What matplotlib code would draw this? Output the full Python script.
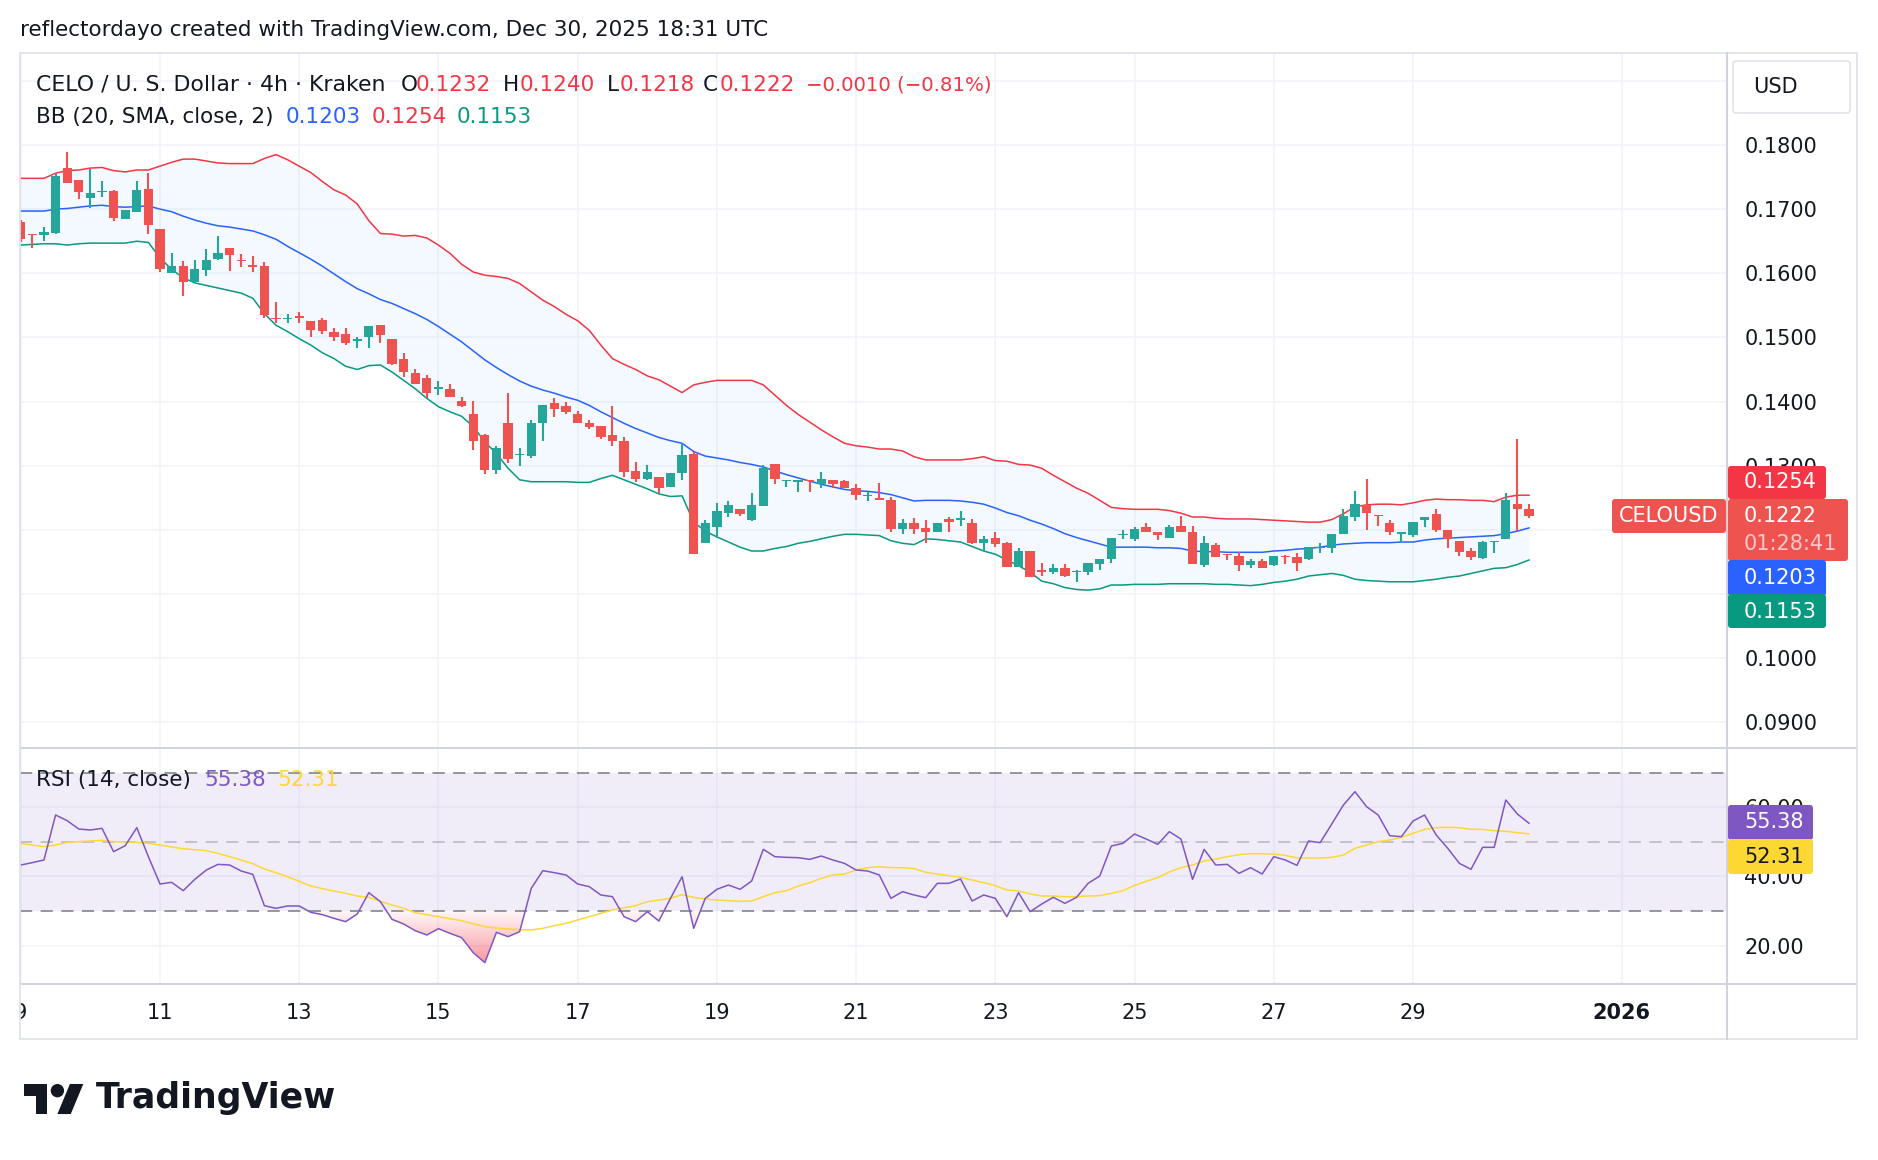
import numpy as np
import pandas as pd
import matplotlib
matplotlib.use('Agg')
import matplotlib.pyplot as plt
import matplotlib.dates as mdates
from matplotlib.transforms import Affine2D, Bbox, TransformedBbox, blended_transform_factory
from matplotlib.patches import FancyBboxPatch, Polygon, Circle
from matplotlib.lines import Line2D
from matplotlib.path import Path
from matplotlib.ticker import FormatStrFormatter

# ---------------- data (CELO/USD, 4h candles from 2025-12-09 00:00 UTC) ----------------
start_time = '2025-12-09 00:00'

opens = [0.1680, 0.1662, 0.1660, 0.1663, 0.1764, 0.1745, 0.1718, 0.1727, 0.1729, 0.1684,
         0.1696, 0.1731, 0.1669, 0.1601, 0.1611, 0.1587, 0.1605, 0.1622, 0.1640, 0.1621,
         0.1613, 0.1611, 0.1531, 0.1529, 0.1533, 0.1525, 0.1527, 0.1509, 0.1506, 0.1495,
         0.1500, 0.1520, 0.1497, 0.1467, 0.1444, 0.1436, 0.1420, 0.1420, 0.1401, 0.1380,
         0.1348, 0.1293, 0.1366, 0.1316, 0.1315, 0.1367, 0.1397, 0.1393, 0.1380, 0.1367,
         0.1362, 0.1348, 0.1338, 0.1291, 0.1280, 0.1282, 0.1267, 0.1288, 0.1319, 0.1180,
         0.1205, 0.1226, 0.1232, 0.1216, 0.1237, 0.1302, 0.1276, 0.1275, 0.1278, 0.1272,
         0.1277, 0.1276, 0.1266, 0.1252, 0.1250, 0.1246, 0.1202, 0.1210, 0.1203, 0.1196,
         0.1217, 0.1216, 0.1211, 0.1180, 0.1187, 0.1179, 0.1142, 0.1167, 0.1137, 0.1134,
         0.1141, 0.1134, 0.1134, 0.1146, 0.1154, 0.1192, 0.1186, 0.1205, 0.1196, 0.1188,
         0.1206, 0.1196, 0.1145, 0.1176, 0.1163, 0.1160, 0.1145, 0.1151, 0.1145, 0.1159,
         0.1157, 0.1154, 0.1171, 0.1171, 0.1194, 0.1220, 0.1239, 0.1223, 0.1210, 0.1194,
         0.1192, 0.1216, 0.1225, 0.1199, 0.1182, 0.1167, 0.1156, 0.1181, 0.1185, 0.1241,
         0.1232]

highs = [0.1683, 0.1662, 0.1672, 0.1756, 0.1789, 0.1745, 0.1762, 0.1744, 0.1730, 0.1699,
         0.1744, 0.1757, 0.1669, 0.1631, 0.1619, 0.1621, 0.1638, 0.1658, 0.1640, 0.1630,
         0.1627, 0.1617, 0.1555, 0.1537, 0.1540, 0.1525, 0.1530, 0.1514, 0.1514, 0.1500,
         0.1518, 0.1520, 0.1498, 0.1475, 0.1450, 0.1442, 0.1432, 0.1427, 0.1407, 0.1401,
         0.1350, 0.1330, 0.1414, 0.1327, 0.1372, 0.1394, 0.1406, 0.1400, 0.1386, 0.1372,
         0.1362, 0.1393, 0.1344, 0.1305, 0.1301, 0.1283, 0.1289, 0.1335, 0.1322, 0.1215,
         0.1242, 0.1245, 0.1232, 0.1258, 0.1301, 0.1302, 0.1278, 0.1277, 0.1278, 0.1290,
         0.1277, 0.1277, 0.1272, 0.1259, 0.1273, 0.1251, 0.1217, 0.1218, 0.1216, 0.1211,
         0.1220, 0.1229, 0.1217, 0.1190, 0.1196, 0.1181, 0.1171, 0.1167, 0.1149, 0.1146,
         0.1146, 0.1137, 0.1149, 0.1155, 0.1188, 0.1199, 0.1205, 0.1211, 0.1196, 0.1207,
         0.1221, 0.1206, 0.1190, 0.1179, 0.1163, 0.1166, 0.1154, 0.1154, 0.1160, 0.1161,
         0.1164, 0.1174, 0.1180, 0.1194, 0.1232, 0.1260, 0.1280, 0.1223, 0.1216, 0.1196,
         0.1212, 0.1220, 0.1233, 0.1199, 0.1182, 0.1171, 0.1182, 0.1183, 0.1258, 0.1342,
         0.1240]

lows = [0.1649, 0.1639, 0.1650, 0.1661, 0.1740, 0.1716, 0.1702, 0.1719, 0.1682, 0.1684,
        0.1696, 0.1661, 0.1602, 0.1600, 0.1565, 0.1587, 0.1596, 0.1620, 0.1604, 0.1609,
        0.1602, 0.1531, 0.1522, 0.1523, 0.1523, 0.1500, 0.1505, 0.1495, 0.1488, 0.1483,
        0.1484, 0.1492, 0.1457, 0.1438, 0.1428, 0.1405, 0.1410, 0.1407, 0.1392, 0.1324,
        0.1287, 0.1287, 0.1304, 0.1300, 0.1312, 0.1339, 0.1376, 0.1380, 0.1367, 0.1357,
        0.1341, 0.1330, 0.1282, 0.1275, 0.1277, 0.1257, 0.1267, 0.1278, 0.1162, 0.1180,
        0.1188, 0.1220, 0.1221, 0.1214, 0.1237, 0.1272, 0.1267, 0.1259, 0.1259, 0.1266,
        0.1266, 0.1265, 0.1247, 0.1245, 0.1246, 0.1196, 0.1193, 0.1193, 0.1179, 0.1196,
        0.1197, 0.1206, 0.1178, 0.1167, 0.1173, 0.1142, 0.1142, 0.1127, 0.1128, 0.1131,
        0.1126, 0.1119, 0.1130, 0.1138, 0.1149, 0.1185, 0.1183, 0.1196, 0.1184, 0.1188,
        0.1196, 0.1146, 0.1142, 0.1157, 0.1153, 0.1136, 0.1140, 0.1141, 0.1144, 0.1147,
        0.1136, 0.1153, 0.1164, 0.1164, 0.1194, 0.1214, 0.1200, 0.1206, 0.1192, 0.1180,
        0.1189, 0.1205, 0.1197, 0.1172, 0.1160, 0.1153, 0.1155, 0.1164, 0.1185, 0.1198,
        0.1218]

closes = [0.1654, 0.1659, 0.1664, 0.1752, 0.1740, 0.1726, 0.1725, 0.1728, 0.1686, 0.1698,
          0.1730, 0.1675, 0.1607, 0.1611, 0.1587, 0.1606, 0.1621, 0.1631, 0.1629, 0.1619,
          0.1610, 0.1535, 0.1528, 0.1531, 0.1531, 0.1512, 0.1510, 0.1500, 0.1491, 0.1498,
          0.1518, 0.1504, 0.1459, 0.1446, 0.1428, 0.1414, 0.1423, 0.1407, 0.1393, 0.1339,
          0.1293, 0.1327, 0.1310, 0.1319, 0.1367, 0.1394, 0.1389, 0.1384, 0.1367, 0.1361,
          0.1344, 0.1339, 0.1290, 0.1280, 0.1290, 0.1266, 0.1288, 0.1316, 0.1163, 0.1210,
          0.1229, 0.1238, 0.1224, 0.1238, 0.1297, 0.1280, 0.1278, 0.1277, 0.1276, 0.1280,
          0.1271, 0.1266, 0.1254, 0.1254, 0.1246, 0.1202, 0.1210, 0.1202, 0.1196, 0.1211,
          0.1212, 0.1219, 0.1180, 0.1186, 0.1178, 0.1142, 0.1167, 0.1127, 0.1135, 0.1141,
          0.1128, 0.1136, 0.1149, 0.1155, 0.1188, 0.1193, 0.1202, 0.1196, 0.1192, 0.1204,
          0.1196, 0.1146, 0.1180, 0.1157, 0.1161, 0.1145, 0.1151, 0.1141, 0.1159, 0.1157,
          0.1149, 0.1173, 0.1173, 0.1194, 0.1221, 0.1241, 0.1226, 0.1221, 0.1196, 0.1196,
          0.1212, 0.1220, 0.1200, 0.1185, 0.1166, 0.1157, 0.1181, 0.1183, 0.1247, 0.1232,
          0.1222]

bb_upper = [0.1748, 0.1748, 0.1748, 0.1756, 0.1760, 0.1761, 0.1764, 0.1765, 0.1760, 0.1758,
            0.1761, 0.1761, 0.1767, 0.1773, 0.1778, 0.1778, 0.1775, 0.1772, 0.1771, 0.1771,
            0.1771, 0.1779, 0.1785, 0.1777, 0.1767, 0.1757, 0.1743, 0.1730, 0.1722, 0.1708,
            0.1682, 0.1662, 0.1661, 0.1658, 0.1659, 0.1655, 0.1644, 0.1631, 0.1614, 0.1602,
            0.1597, 0.1595, 0.1592, 0.1584, 0.1571, 0.1558, 0.1548, 0.1536, 0.1526, 0.1511,
            0.1488, 0.1467, 0.1458, 0.1450, 0.1440, 0.1434, 0.1424, 0.1414, 0.1426, 0.1430,
            0.1433, 0.1433, 0.1433, 0.1433, 0.1426, 0.1410, 0.1394, 0.1380, 0.1368, 0.1356,
            0.1345, 0.1335, 0.1331, 0.1329, 0.1326, 0.1326, 0.1323, 0.1314, 0.1309, 0.1309,
            0.1309, 0.1309, 0.1311, 0.1314, 0.1308, 0.1307, 0.1302, 0.1301, 0.1296, 0.1285,
            0.1275, 0.1265, 0.1257, 0.1246, 0.1235, 0.1233, 0.1232, 0.1232, 0.1232, 0.1230,
            0.1226, 0.1220, 0.1220, 0.1218, 0.1217, 0.1217, 0.1217, 0.1216, 0.1215, 0.1214,
            0.1213, 0.1212, 0.1212, 0.1216, 0.1225, 0.1236, 0.1239, 0.1240, 0.1240, 0.1239,
            0.1242, 0.1246, 0.1248, 0.1247, 0.1247, 0.1246, 0.1246, 0.1244, 0.1251, 0.1254,
            0.1254]

bb_basis = [0.1697, 0.1697, 0.1697, 0.1700, 0.1701, 0.1703, 0.1705, 0.1706, 0.1704, 0.1703,
            0.1704, 0.1705, 0.1700, 0.1696, 0.1689, 0.1683, 0.1678, 0.1674, 0.1672, 0.1669,
            0.1666, 0.1660, 0.1653, 0.1642, 0.1632, 0.1622, 0.1611, 0.1599, 0.1587, 0.1576,
            0.1568, 0.1559, 0.1553, 0.1545, 0.1537, 0.1528, 0.1517, 0.1505, 0.1493, 0.1479,
            0.1465, 0.1453, 0.1442, 0.1432, 0.1424, 0.1418, 0.1413, 0.1407, 0.1402, 0.1394,
            0.1384, 0.1375, 0.1366, 0.1358, 0.1351, 0.1344, 0.1339, 0.1335, 0.1322, 0.1315,
            0.1312, 0.1309, 0.1305, 0.1302, 0.1298, 0.1292, 0.1286, 0.1281, 0.1276, 0.1271,
            0.1267, 0.1263, 0.1261, 0.1260, 0.1258, 0.1255, 0.1250, 0.1245, 0.1246, 0.1246,
            0.1246, 0.1245, 0.1243, 0.1240, 0.1234, 0.1227, 0.1222, 0.1215, 0.1209, 0.1202,
            0.1194, 0.1188, 0.1183, 0.1178, 0.1173, 0.1173, 0.1173, 0.1173, 0.1172, 0.1172,
            0.1171, 0.1167, 0.1166, 0.1166, 0.1165, 0.1165, 0.1165, 0.1165, 0.1167, 0.1168,
            0.1170, 0.1171, 0.1173, 0.1176, 0.1178, 0.1179, 0.1180, 0.1180, 0.1180, 0.1181,
            0.1181, 0.1184, 0.1186, 0.1187, 0.1188, 0.1189, 0.1190, 0.1191, 0.1194, 0.1198,
            0.1203]

bb_lower = [0.1644, 0.1645, 0.1646, 0.1646, 0.1644, 0.1646, 0.1647, 0.1647, 0.1647, 0.1647,
            0.1650, 0.1648, 0.1624, 0.1606, 0.1593, 0.1585, 0.1581, 0.1577, 0.1573, 0.1569,
            0.1561, 0.1537, 0.1519, 0.1509, 0.1498, 0.1488, 0.1476, 0.1467, 0.1455, 0.1450,
            0.1456, 0.1457, 0.1446, 0.1433, 0.1420, 0.1405, 0.1392, 0.1384, 0.1377, 0.1361,
            0.1337, 0.1319, 0.1296, 0.1278, 0.1275, 0.1275, 0.1275, 0.1275, 0.1274, 0.1274,
            0.1280, 0.1285, 0.1278, 0.1271, 0.1264, 0.1256, 0.1252, 0.1253, 0.1212, 0.1198,
            0.1189, 0.1181, 0.1173, 0.1167, 0.1167, 0.1171, 0.1174, 0.1179, 0.1182, 0.1186,
            0.1190, 0.1193, 0.1193, 0.1192, 0.1191, 0.1183, 0.1179, 0.1177, 0.1186, 0.1185,
            0.1183, 0.1181, 0.1174, 0.1167, 0.1162, 0.1153, 0.1144, 0.1134, 0.1120, 0.1116,
            0.1110, 0.1107, 0.1106, 0.1108, 0.1114, 0.1114, 0.1115, 0.1115, 0.1115, 0.1116,
            0.1116, 0.1116, 0.1116, 0.1115, 0.1115, 0.1114, 0.1113, 0.1115, 0.1118, 0.1120,
            0.1123, 0.1128, 0.1130, 0.1132, 0.1129, 0.1123, 0.1121, 0.1120, 0.1119, 0.1119,
            0.1119, 0.1121, 0.1123, 0.1126, 0.1128, 0.1132, 0.1136, 0.1140, 0.1141, 0.1146,
            0.1153]

rsi = [43.30, 44.00, 44.75, 57.76, 56.12, 53.71, 53.42, 53.90, 47.16, 48.89,
       54.10, 45.71, 37.81, 38.29, 35.88, 39.16, 41.86, 43.49, 43.30, 41.57,
       40.60, 31.54, 30.77, 31.45, 31.45, 29.61, 28.94, 27.88, 26.92, 29.13,
       35.30, 32.70, 27.59, 26.24, 24.31, 23.06, 24.89, 23.54, 22.29, 17.95,
       15.06, 23.83, 22.58, 24.02, 36.55, 41.66, 41.08, 40.41, 37.81, 37.04,
       34.63, 34.14, 28.36, 26.92, 29.81, 27.11, 33.66, 39.93, 24.99, 33.66,
       36.27, 37.52, 36.27, 38.67, 47.83, 45.71, 45.52, 45.42, 44.94, 45.90,
       44.75, 43.78, 41.86, 41.57, 40.41, 33.66, 35.59, 34.63, 33.86, 38.00,
       38.00, 39.25, 32.89, 34.63, 33.66, 28.36, 35.30, 29.81, 32.02, 33.95,
       32.22, 33.95, 38.00, 40.12, 48.80, 49.57, 52.27, 50.82, 49.28, 52.94,
       50.82, 39.16, 47.83, 43.30, 43.49, 40.89, 42.53, 40.70, 45.71, 44.75,
       43.20, 50.24, 49.76, 55.16, 60.65, 64.51, 60.17, 57.76, 51.78, 51.49,
       56.02, 57.76, 51.98, 48.12, 43.78, 42.05, 48.41, 48.41, 62.10, 58.05,
       55.38]

rsi_ma = [49.57, 49.08, 48.60, 49.08, 49.86, 50.05, 50.24, 50.43, 50.05, 49.95,
          49.86, 49.57, 49.08, 48.51, 48.02, 47.73, 47.45, 46.67, 45.71, 44.75,
          43.69, 42.14, 41.08, 39.93, 38.58, 37.23, 36.46, 35.78, 35.11, 34.34,
          33.95, 32.80, 31.73, 30.77, 29.52, 28.94, 28.36, 27.78, 27.20, 26.34,
          25.47, 25.08, 24.80, 24.60, 24.51, 24.99, 25.76, 26.43, 27.40, 28.36,
          29.33, 30.29, 30.96, 31.54, 32.70, 33.18, 33.66, 34.72, 33.95, 33.47,
          33.18, 32.99, 32.80, 32.89, 34.14, 35.30, 35.88, 37.23, 38.19, 39.45,
          40.41, 40.70, 41.86, 42.53, 42.82, 42.53, 42.53, 42.24, 41.18, 40.70,
          40.22, 39.73, 38.96, 38.19, 37.33, 36.07, 35.78, 34.92, 34.34, 34.34,
          34.14, 34.14, 34.34, 34.43, 35.11, 35.88, 37.42, 38.58, 39.64, 41.28,
          42.53, 43.30, 44.46, 45.04, 45.71, 46.29, 46.58, 46.58, 46.48, 46.10,
          45.33, 45.33, 45.33, 45.52, 46.19, 48.12, 49.08, 50.05, 50.53, 51.30,
          52.46, 53.61, 54.10, 54.19, 54.10, 53.61, 53.61, 53.23, 53.04, 52.65,
          52.31]

price_ticks = [0.09, 0.10, 0.11, 0.12, 0.13, 0.14, 0.15, 0.16, 0.17, 0.18]
price_grid_extra = [0.19]
rsi_ticks = [20, 40, 60]
date_ticks = ['2025-12-09', '2025-12-11', '2025-12-13', '2025-12-15', '2025-12-17', '2025-12-19',
              '2025-12-21', '2025-12-23', '2025-12-25', '2025-12-27', '2025-12-29', '2026-01-01']
date_tick_labels = ['9', '11', '13', '15', '17', '19', '21', '23', '25', '27', '29', '2026']
time_left = '2025-12-08 23:44'
time_right = '2026-01-02 12:16'
countdown = '01:28:41'

# ---------------- arrays ----------------
o = np.array(opens); h = np.array(highs); l = np.array(lows); c = np.array(closes)
up_ = np.array(bb_upper); mid_ = np.array(bb_basis); lo_ = np.array(bb_lower)
r = np.array(rsi); rm = np.array(rsi_ma)
times = pd.date_range(start_time, periods=len(c), freq='4h')
x = mdates.date2num(times.to_pydatetime())
xt = mdates.date2num(pd.to_datetime(date_ticks).to_pydatetime())
xl = mdates.date2num(pd.Timestamp(time_left).to_pydatetime())
xr = mdates.date2num(pd.Timestamp(time_right).to_pydatetime())

TXT = '#131722'
UP = '#26A69A'
DN = '#EF5350'
GRID = '#F0F3FA'
BORDER = '#E0E3EB'
SEP = '#D1D4DC'
FONT = 'DejaVu Sans'
plt.rcParams['font.family'] = [FONT]
HDR = 15.5
AXF = 15

W, H = 1878, 1160
fig = plt.figure(figsize=(W / 100, H / 100), dpi=100)
fig.patch.set_facecolor('white')
T = Affine2D().scale(1, -1).translate(0, H)   # top-left pixel layout coords


def rect(lf, tp, rt, bt):
    return [lf / W, 1 - bt / H, (rt - lf) / W, (bt - tp) / H]


ax = fig.add_axes(rect(20, 53, 1727, 748))
axr = fig.add_axes(rect(20, 748, 1727, 984))

for a in (ax, axr):
    for s in a.spines.values():
        s.set_visible(False)
    a.set_facecolor('white')
    a.set_xlim(xl, xr)
    a.set_xticks(xt)
    a.tick_params(axis='x', length=0, labelbottom=False)
    a.grid(True, axis='both', color=GRID, lw=1.1)
    a.set_axisbelow(True)
    a.yaxis.tick_right()
    a.tick_params(axis='y', length=0, pad=12.5, labelsize=AXF, labelcolor=TXT)

# ---- price panel ----
ax.set_ylim(0.08599, 0.19434)
ax.set_yticks(price_ticks)
ax.yaxis.set_major_formatter(FormatStrFormatter('%.4f'))
for g in price_grid_extra:
    ax.axhline(g, color=GRID, lw=1.1, zorder=0.5)

ax.fill_between(x, lo_, up_, color='#2196F3', alpha=0.05, lw=0, zorder=1)
ax.plot(x, up_, color='#F23645', lw=1.1, zorder=2)
ax.plot(x, mid_, color='#2962FF', lw=1.1, zorder=2)
ax.plot(x, lo_, color='#089981', lw=1.1, zorder=2)

cols = np.where(c >= o, UP, DN)
cw = 0.8 * (4 / 24)
ax.vlines(x, l, h, colors=cols, lw=1.5, zorder=3)
ax.bar(x, np.maximum(np.abs(c - o), 0.00014), bottom=np.minimum(o, c), width=cw,
       color=cols, lw=0, zorder=4)

# ---- RSI panel ----
axr.set_ylim(8.89, 77.14)
axr.set_yticks(rsi_ticks)
axr.yaxis.set_major_formatter(FormatStrFormatter('%.2f'))
axr.axhspan(30, 70, color='#7E57C2', alpha=0.1, lw=0, zorder=0.6)
dash = (0, (8, 5.5))
axr.axhline(70, color='#787B86', lw=1.1, ls=dash, zorder=1)
axr.axhline(50, color='#787B86', alpha=0.5, lw=1.1, ls=dash, zorder=1)
axr.axhline(30, color='#787B86', lw=1.1, ls=dash, zorder=1)

# oversold gradient fill
pc = axr.fill_between(x, r, 30, where=r < 30, interpolate=True, facecolor='none', edgecolor='none')
paths = pc.get_paths()
if paths:
    cpath = Path.make_compound_path(*paths)
    n = 256
    vals = np.linspace(8.89, 30, n)
    img = np.zeros((n, 1, 4))
    img[..., 0] = 242 / 255; img[..., 1] = 54 / 255; img[..., 2] = 69 / 255
    img[:, 0, 3] = np.clip(0.04 + 0.032 * (30 - vals), 0, 1)
    im = axr.imshow(img, extent=[xl, xr, 8.89, 30], origin='lower', aspect='auto',
                    zorder=1.5, interpolation='bilinear')
    im.set_clip_path(cpath, transform=axr.transData)
axr.set_xlim(xl, xr)
axr.set_ylim(8.89, 77.14)

axr.plot(x, rm, color='#FDD835', lw=1.1, zorder=2)
axr.plot(x, r, color='#7E57C2', lw=1.1, zorder=3)

# ---- time axis labels ----
clipbox = TransformedBbox(Bbox.from_extents(20 / W, 0, 1727 / W, 1), fig.transFigure)
btr = blended_transform_factory(axr.transData, axr.transAxes)
for xv, lab in zip(xt, date_tick_labels):
    t = axr.text(xv, -(1013 - 984) / 236, lab, transform=btr, ha='center', va='center',
                 fontsize=AXF, color=TXT, fontweight='bold' if lab == '2026' else 'normal')
    t.set_clip_box(clipbox)
    t.set_clip_on(True)

# ---- frame lines ----
def hline(y, x0, x1, color=BORDER, lw=1.3):
    fig.add_artist(Line2D([x0, x1], [y, y], transform=T, color=color, lw=lw, zorder=5))


def vline(xp, y0, y1, color=BORDER, lw=1.3):
    fig.add_artist(Line2D([xp, xp], [y0, y1], transform=T, color=color, lw=lw, zorder=5))


hline(53, 20, 1857); hline(1039, 20, 1857)
hline(748, 20, 1857, SEP, 1.5); hline(984, 20, 1857, SEP, 1.5)
vline(20, 53, 1039); vline(1857, 53, 1039); vline(1727, 53, 1039, SEP, 1.5)

# ---- header texts ----
def ftext(xp, yp, s, color=TXT, size=HDR, **kw):
    return fig.text(xp, yp, s, transform=T, color=color, fontsize=size, va='center', **kw)


ftext(20, 30, 'reflectordayo created with TradingView.com, Dec 30, 2025 18:31 UTC', size=15.5)

RED = '#F23645'
chg = c[-1] - c[-2]
pct = chg / c[-2] * 100
ftext(36, 85, 'CELO / U. S. Dollar · 4h · Kraken', size=15.8)
ftext(401, 85, 'O'); ftext(416, 85, f'{o[-1]:.4f}', RED)
ftext(503, 85, 'H'); ftext(520, 85, f'{h[-1]:.4f}', RED)
ftext(607, 85, 'L'); ftext(620, 85, f'{l[-1]:.4f}', RED)
ftext(703, 85, 'C'); ftext(720, 85, f'{c[-1]:.4f}', RED)
ftext(806, 85, f'−{abs(chg):.4f} (−{abs(pct):.2f}%)', RED, size=14.2)

ftext(36, 117, 'BB (20, SMA, close, 2)')
ftext(286, 117, f'{mid_[-1]:.4f}', '#2962FF')
ftext(372, 117, f'{up_[-1]:.4f}', RED)
ftext(457, 117, f'{lo_[-1]:.4f}', '#089981')

ftext(36, 780, 'RSI (14, close)')
ftext(204, 780, f'{r[-1]:.2f}', '#7E57C2')
ftext(277, 780, f'{rm[-1]:.2f}', '#FDD835')

# ---- right-axis tags ----
def tag(x0, y0, x1, y1, fc, ec='none', lw=0):
    p = FancyBboxPatch((x0, y0), x1 - x0, y1 - y0, boxstyle='round,pad=0,rounding_size=3',
                       transform=T, fc=fc, ec=ec, lw=lw, zorder=6)
    fig.add_artist(p)


def ttext(xp, yp, s, color='white', **kw):
    t = ftext(xp, yp, s, color, size=AXF, **kw)
    t.set_zorder(7)
    return t


tag(1733, 61, 1850, 113, 'white', ec=BORDER, lw=1.2)
ttext(1753, 87, 'USD', TXT)

tag(1728, 466, 1826, 499, '#F23645')
ttext(1744, 482, f'{up_[-1]:.4f}')
tag(1728, 499, 1848, 561, '#EF5350')
ttext(1744, 516, f'{c[-1]:.4f}')
ttext(1744, 544, countdown, '#FBC9C9')
tag(1612, 499, 1726, 533, '#EF5350')
ttext(1669, 516, 'CELOUSD', ha='center')
tag(1728, 560, 1826, 596, '#2962FF')
ttext(1744, 578, f'{mid_[-1]:.4f}')
tag(1728, 594, 1826, 628, '#089981')
ttext(1744, 612, f'{lo_[-1]:.4f}')
tag(1728, 805, 1813, 840, '#7E57C2')
ttext(1744, 822, f'{r[-1]:.2f}')
tag(1728, 839, 1813, 874, '#FDD835')
ttext(1744, 857, f'{rm[-1]:.2f}', TXT)

# ---- TradingView logo ----
s = 1.67
ox, oy = 24, 1077.3
def P(u, v):
    return (ox + u * s, oy + v * s)
fig.add_artist(Polygon([P(0, 4), P(14, 4), P(14, 22), P(7, 22), P(7, 11), P(0, 11)],
                       closed=True, transform=T, fc=TXT, ec='none'))
fig.add_artist(Polygon([P(20, 22), P(27.5, 4), P(35.5, 4), P(28, 22)],
                       closed=True, transform=T, fc=TXT, ec='none'))
fig.add_artist(Circle(P(20, 8), 4 * s, transform=T, fc=TXT, ec='none'))
ftext(96, 1098, 'TradingView', size=25, fontweight='bold')

fig.savefig('out.png', dpi=100, facecolor='white')
